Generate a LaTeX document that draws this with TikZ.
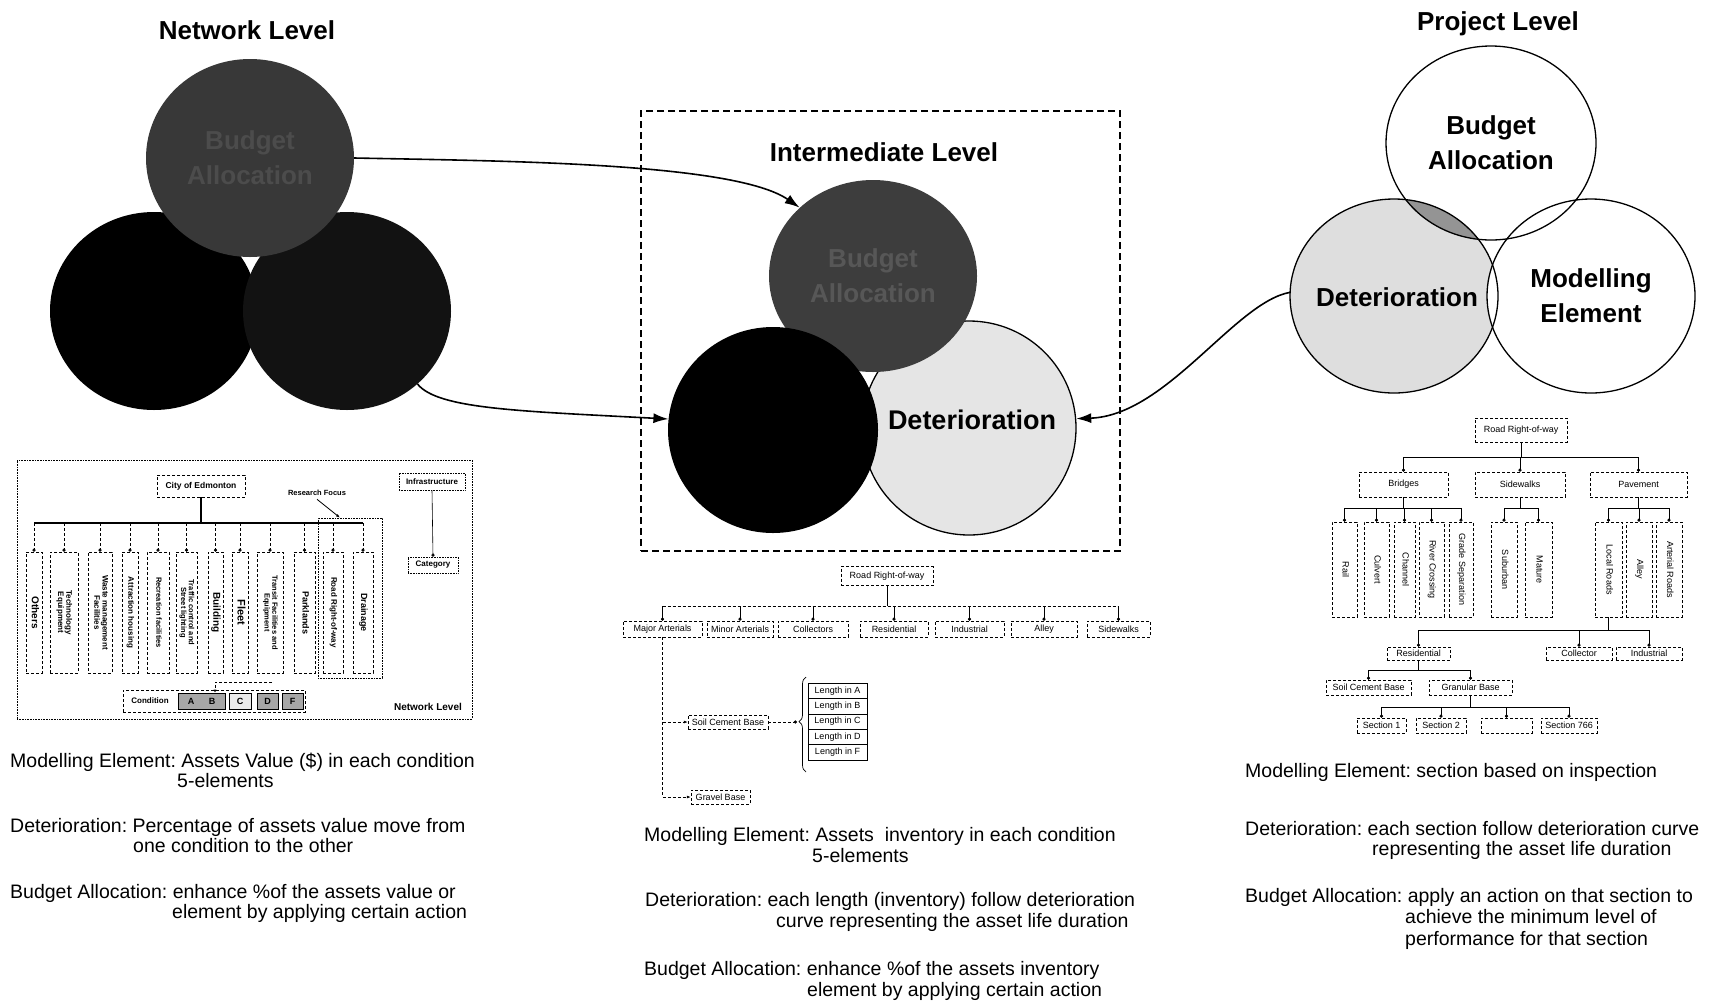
\documentclass[tikz,border=0pt]{standalone}
\usepackage{fontspec}
\setmainfont{Liberation Sans}
\usetikzlibrary{shapes.geometric,arrows.meta,decorations.pathreplacing}
\newcommand\fsz[2]{\fontsize{#1}{#2}\selectfont}
\newcommand\vlab[1]{\rotatebox{-90}{\begin{tabular}{@{}c@{}}#1\end{tabular}}}
\frenchspacing

\begin{document}
\begin{tikzpicture}[x=1pt,y=-1pt,
  orb/.style 2 args={ellipse,inner sep=0pt,minimum width=#1,minimum height=#2},
  lvl/.style={font=\fsz{26}{30}\bfseries,anchor=base,inner sep=0pt},
  orbtxt/.style={font=\fsz{26}{35}\bfseries,align=center},
  note/.style={font=\fsz{19.5}{22},anchor=base west,inner sep=0pt},
  link/.style={line width=1.6pt,-{Latex[length=15pt,width=10pt]}},
  box/.style={draw,densely dashed,line width=0.5pt,inner sep=0pt},
  dotbox/.style={draw,densely dotted,line width=0.6pt,inner sep=0pt},
  sbox/.style={draw,line width=0.6pt,inner sep=0pt},
  conn/.style={line width=0.6pt},
  drop/.style={conn,-{Circle[length=3.2pt]}},
  dashdrop/.style={drop,densely dashed},
  ntxt/.style={font=\fsz{8}{8.5}\bfseries},
  ptxt/.style={font=\fsz{9}{9.5}},
  itxt/.style={font=\fsz{9}{9.5}},
]
\useasboundingbox (0,0) rectangle (1712,1005);
\fill[white] (0,0) rectangle (1712,1005);

% ---------------- level titles ----------------
\node[lvl] (tNet) at (247,39) {Network Level};
\node[lvl] (tInt) at (884,161) {Intermediate Level};
\node[lvl] (tPrj) at (1498,30) {Project Level};

% ---------------- network level circles ----------------
\node[orb={208}{198},fill=black] (nLeft) at (154,311) {};
\node[orb={208}{198},fill=black!93] (nRight) at (347,311) {};
\node[orb={208}{198},fill=black!78,orbtxt,text=black!70] (nTop) at (250,158) {Budget\\Allocation};

% ---------------- intermediate level ----------------
\node[draw,line width=1.5pt,dash pattern=on 7pt off 4pt,minimum width=479,minimum height=440,inner sep=0pt] (iFrame) at (880.5,331) {};
\node[orb={214}{214},fill=black!10,draw,line width=1.3pt] (iDet) at (969,428) {};
\node[orb={208}{192},fill=black!76,orbtxt,text=black!66] (iTop) at (873,276) {Budget\\Allocation};
\node[orb={210}{206},fill=black] (iBlack) at (773,430) {};
\node[font=\fsz{27}{30}\bfseries] (iDetTxt) at (972,420) {Deterioration};

% ---------------- project level circles ----------------
\node[orb={208}{194},fill=black!13] (pDet) at (1394,296) {};
\begin{scope}
  \clip (1394,296) ellipse [x radius=104pt, y radius=97pt];
  \fill[black!42] (1491,143) ellipse [x radius=105pt, y radius=97pt];
\end{scope}
\node[font=\fsz{26}{30}\bfseries] (pDetTxt) at (1397,297) {Deterioration};
\node[orb={208}{194},fill=white,draw,line width=1.3pt,orbtxt] (pMod) at (1591,296) {Modelling\\Element};
\draw[line width=1.3pt] (1394,296) ellipse [x radius=104pt, y radius=97pt];
\node[orb={210}{194},draw,line width=1.3pt,orbtxt] (pTop) at (1491,143) {Budget\\Allocation};

% ---------------- links between the levels ----------------
\draw[link] (nTop.east) .. controls +(150,3) and +(-65,-45) .. (iTop.137);
\draw[link] (nRight.-46) .. controls +(20,25) and +(-150,-8) .. (iBlack.174);
\draw[link] (pDet.178) .. controls +(-55,10) and +(90,-3) .. (iDet.5);

% ---------------- network level breakdown ----------------
\node[dotbox,minimum width=455,minimum height=259] (nChart) at (244.5,589.5) {};
\node[box,ntxt,font=\fsz{8.5}{9}\bfseries,minimum width=88,minimum height=22] (nCity) at (201,486) {City of Edmonton};
\coordinate (nBus) at (201,523);
\foreach \nm/\cx/\bw/\sz/\tx in {
  nOth/34/16/10/{Others},
  nTech/64/28/8/{Technology\\Equipment},
  nWaste/100/24/8/{Waste management\\Facilities},
  nAttr/130/16/8/{Attraction housing},
  nRec/158/22/7.5/{Recreation facilities},
  nTraf/186.5/21/7.5/{Traffic control and\\Street lighting},
  nBldg/215.5/15/10/{Building},
  nFleet/240/16/11/{Fleet},
  nTrans/270/26/7.5/{Transit Facilities and\\Equipment},
  nPark/304.5/21/9/{Parklands},
  nRoad/333/20/8/{Road Right-of-way},
  nDrain/363/20/9/{Drainage}} {
  \node[box,minimum width=\bw,minimum height=121,font=\fsz{\sz}{\sz}\bfseries] (\nm) at (\cx,612.5) {\vlab{\tx}};
  \draw[dashdrop] (\nm.north |- nBus) -- (\nm.north);
}
\draw[line width=1.3pt] (nCity.south) -- (nBus);
\draw[line width=1.3pt] (nOth.north |- nBus) -- (nDrain.north |- nBus);

\node[dotbox,minimum width=64,minimum height=160] (nFocusBox) at (350,598) {};
\node[ntxt,font=\fsz{7.5}{8}\bfseries] (nFocus) at (317,493) {Research Focus};
\draw[line width=0.8pt,-{Latex[length=4pt,width=3pt]}] (nFocus.south) -- ([xshift=-10pt]nFocusBox.north);

\node[dotbox,ntxt,minimum width=66,minimum height=17] (nInfra) at (432,481.5) {Infrastructure};
\node[dotbox,ntxt,minimum width=50,minimum height=16] (nCat) at (433,565) {Category};
\draw[drop] (nInfra.south) -- (nCat.north);

\node[box,minimum width=182,minimum height=22] (nCondRow) at (214,701) {};
\node[ntxt] (nCond) at (150,701) {Condition};
\node[sbox,fill=black!35,minimum width=47,minimum height=16] (nAB) at (201.5,701) {};
\node[ntxt,font=\fsz{9}{9}\bfseries] (nA) at (191,701) {A};
\node[ntxt,font=\fsz{9}{9}\bfseries] (nB) at (212,701) {B};
\node[sbox,fill=black!8,ntxt,font=\fsz{9}{9}\bfseries,minimum width=22,minimum height=16] (nC) at (240,701) {C};
\node[sbox,fill=black!35,ntxt,font=\fsz{9}{9}\bfseries,minimum width=21,minimum height=16] (nD) at (267.5,701) {D};
\node[sbox,fill=black!35,ntxt,font=\fsz{9}{9}\bfseries,minimum width=21,minimum height=16] (nF) at (292.5,701) {F};
\coordinate (nCa) at (272,682);
\coordinate (nCb) at (215,682);
\draw[conn,densely dashed,-{Latex[length=3pt,width=3pt]}] (nCa) -- (nCb) -- (nCb |- nAB.north);
\node[font=\fsz{10}{10}\bfseries] (nTag) at (428,707) {Network Level};

% ---------------- intermediate level breakdown ----------------
\node[box,itxt,minimum width=92,minimum height=19] (iRoot) at (887,576) {Road Right-of-way};
\coordinate (iBus) at (887,606);
\foreach \nm/\cx/\bw/\tx in {
  iMaj/662.5/79/{Major Arterials},
  iMin/740/66/{Minor Arterials},
  iCol/813/70/{Collectors},
  iRes/894/68/{Residential},
  iInd/969.5/69/{Industrial},
  iAll/1044/66/{Alley},
  iSide/1118.5/63/{Sidewalks}} {
  \node[box,itxt,minimum width=\bw,minimum height=16] (\nm) at (\cx,629) {\tx};
  \draw[drop] (\nm.north |- iBus) -- (\nm.north);
}
\draw[conn] (iRoot.south) -- (iBus);
\draw[conn,densely dashed] (iMaj.north |- iBus) -- (iSide.north |- iBus);

\node[box,itxt,minimum width=80,minimum height=14] (iSoil) at (728,722) {Soil Cement Base};
\node[box,itxt,minimum width=59,minimum height=14] (iGravel) at (720.5,797) {Gravel Base};
\draw[conn,densely dashed,-{Latex[length=4pt,width=3pt]}] (iMaj.south) |- (iSoil.west);
\draw[conn,densely dashed,-{Latex[length=4pt,width=3pt]}] (iMaj.south) |- (iGravel.west);
\coordinate (iBraceTip) at (797,722);
\draw[drop,densely dashed] (iSoil.east) -- (iBraceTip);
\draw[line width=0.7pt,decorate,decoration={brace,amplitude=7pt,aspect=0.53}] (806,772) -- (806,677);
\foreach \nm/\cy/\lt in {iLa/690.7/A, iLb/706.1/B, iLc/721.5/C, iLd/736.9/D, iLf/752.3/F} {
  \node[sbox,itxt,minimum width=59,minimum height=15.4] (\nm) at (837.5,\cy) {Length in \lt};
}

% ---------------- project level breakdown ----------------
\node[box,ptxt,minimum width=92,minimum height=24] (pRoot) at (1521,430) {Road Right-of-way};
\coordinate (pBus) at (1521,457);
\node[box,ptxt,minimum width=89,minimum height=25] (pBridges) at (1403.5,484.5) {Bridges};
\node[box,ptxt,minimum width=90,minimum height=25] (pSide) at (1520,484.5) {Sidewalks};
\node[box,ptxt,minimum width=97,minimum height=25] (pPave) at (1638.5,484.5) {Pavement};
\draw[conn] (pRoot.south) -- (pBus);
\draw[conn] (pBridges.north |- pBus) -- (pPave.north |- pBus);
\foreach \nm in {pBridges,pSide,pPave} { \draw[drop] (\nm.north |- pBus) -- (\nm.north); }

\foreach \nm/\cx/\bw/\tx in {
  pRail/1344.5/25/{Rail},
  pCulv/1376.5/25/{Culvert},
  pChan/1404.5/21/{Channel},
  pRiver/1431.5/25/{River Crossing},
  pGrade/1461/24/{Grade Separation},
  pSub/1504/26/{Suburban},
  pMat/1538.5/27/{Mature},
  pLocal/1608.5/27/{Local Roads},
  pAlley/1639/26/{Alley},
  pArt/1669/26/{Arterial Roads}} {
  \node[box,ptxt,minimum width=\bw,minimum height=95] (\nm) at (\cx,569.5) {\vlab{\tx}};
}
\coordinate (pBrBus) at (1403.5,508);
\coordinate (pSdBus) at (1520,508);
\coordinate (pPvBus) at (1638.5,508);
\draw[conn] (pBridges.south) -- (pBrBus);
\draw[conn] (pRail.north |- pBrBus) -- (pGrade.north |- pBrBus);
\foreach \nm in {pRail,pCulv,pChan,pRiver,pGrade} { \draw[drop] (\nm.north |- pBrBus) -- (\nm.north); }
\draw[conn] (pSide.south) -- (pSdBus);
\draw[conn] (pSub.north |- pSdBus) -- (pMat.north |- pSdBus);
\foreach \nm in {pSub,pMat} { \draw[drop] (\nm.north |- pSdBus) -- (\nm.north); }
\draw[conn] (pPave.south) -- (pPvBus);
\draw[conn] (pLocal.north |- pPvBus) -- (pArt.north |- pPvBus);
\foreach \nm in {pLocal,pAlley,pArt} { \draw[drop] (\nm.north |- pPvBus) -- (\nm.north); }

\node[box,ptxt,minimum width=63,minimum height=13] (pRes) at (1418.5,653.5) {Residential};
\node[box,ptxt,minimum width=66,minimum height=13] (pColl) at (1579,653.5) {Collector};
\node[box,ptxt,minimum width=66,minimum height=13] (pInd) at (1649,653.5) {Industrial};
\coordinate (pLrBus) at (1608.5,630);
\draw[conn] (pLocal.south) -- (pLrBus);
\draw[conn] (pRes.north |- pLrBus) -- (pInd.north |- pLrBus);
\foreach \nm in {pRes,pColl,pInd} { \draw[drop] (\nm.north |- pLrBus) -- (\nm.north); }

\node[box,ptxt,minimum width=85,minimum height=15] (pSoil) at (1368.5,687.5) {Soil Cement Base};
\node[box,ptxt,minimum width=83,minimum height=15] (pGran) at (1470.5,687.5) {Granular Base};
\coordinate (pRsBus) at (1418.5,670);
\draw[conn] (pRes.south) -- (pRsBus);
\draw[conn] (pSoil.north |- pRsBus) -- (pGran.north |- pRsBus);
\foreach \nm in {pSoil,pGran} { \draw[drop] (\nm.north |- pRsBus) -- (\nm.north); }

\node[box,ptxt,minimum width=49,minimum height=15] (pS1) at (1381.5,725.5) {Section 1};
\node[box,ptxt,minimum width=50,minimum height=15] (pS2) at (1441,725.5) {Section 2};
\node[box,ptxt,minimum width=51,minimum height=15] (pS3) at (1506.5,725.5) {};
\node[box,ptxt,minimum width=56,minimum height=15] (pS4) at (1569,725.5) {Section 766};
\coordinate (pGrBus) at (1470.5,707);
\draw[conn] (pGran.south) -- (pGrBus);
\draw[conn] (pS1.north |- pGrBus) -- (pS4.north |- pGrBus);
\foreach \nm in {pS1,pS2,pS3,pS4} { \draw[drop] (\nm.north |- pGrBus) -- (\nm.north); }

% ---------------- descriptions ----------------
\node[note] (nN1) at (10,767) {Modelling Element: Assets Value (\$) in each condition};
\node[note] (nN2) at (177,787) {5-elements};
\node[note] (nN3) at (10,832) {Deterioration: Percentage of assets value move from};
\node[note] (nN4) at (133,852) {one condition to the other};
\node[note] (nN5) at (10,898) {Budget Allocation: enhance \%of the assets value or};
\node[note] (nN6) at (172,918) {element by applying certain action};

\node[note] (iN1) at (644,841) {Modelling Element: Assets~ inventory in each condition};
\node[note] (iN2) at (812,862) {5-elements};
\node[note] (iN3) at (645,906) {Deterioration: each length (inventory) follow deterioration};
\node[note] (iN4) at (776,927) {curve representing the asset life duration};
\node[note] (iN5) at (644,975) {Budget Allocation: enhance \%of the assets inventory};
\node[note] (iN6) at (807,996) {element by applying certain action};

\node[note] (pN1) at (1245,777) {Modelling Element: section based on inspection};
\node[note] (pN3) at (1245,835) {Deterioration: each section follow deterioration curve};
\node[note] (pN4) at (1372,855) {representing the asset life duration};
\node[note] (pN5) at (1245,902) {Budget Allocation: apply an action on that section to};
\node[note] (pN6) at (1405,923) {achieve the minimum level of};
\node[note] (pN7) at (1405,945) {performance for that section};
\end{tikzpicture}
\end{document}
